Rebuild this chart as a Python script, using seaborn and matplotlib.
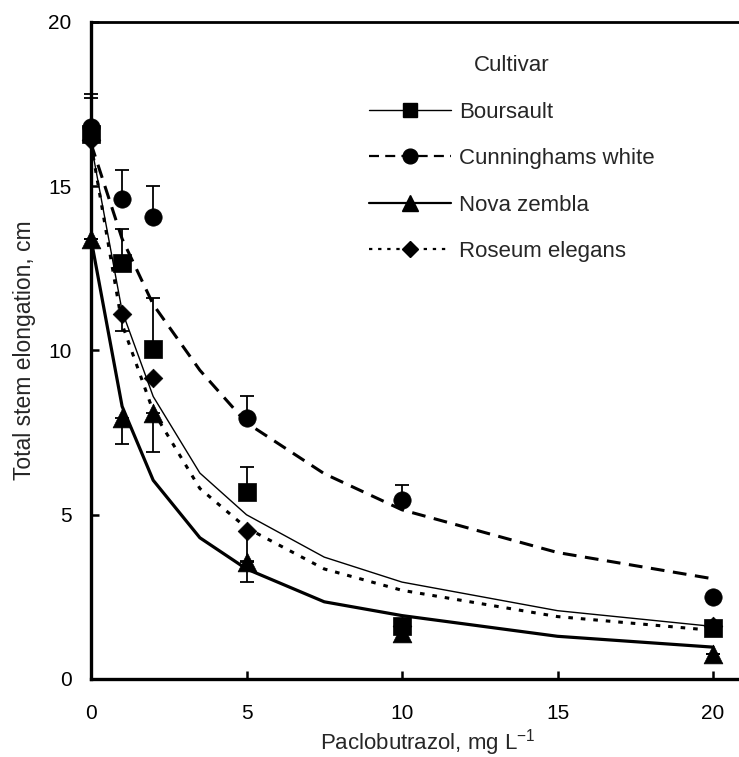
import numpy as np
import pandas as pd
import matplotlib
matplotlib.use("Agg")
import matplotlib.pyplot as plt
import seaborn as sns
from matplotlib.lines import Line2D
from matplotlib.legend_handler import HandlerLine2D

# ---------------- data ----------------
cultivars = ["Boursault", "Cunninghams white", "Nova zembla", "Roseum elegans"]
dose = [0, 1, 2, 5, 10, 20]
boursault = [16.6, 12.65, 10.05, 5.7, 1.6, 1.55]
cunninghams = [16.8, 14.6, 14.05, 7.95, 5.45, 2.5]
nova = [13.4, 7.95, 8.1, 3.55, 1.4, 0.75]
roseum = [16.4, 11.1, 9.15, 4.5, 1.6, 1.6]

boursault_err_up = [1.1, 1.05, 1.55, 0.75, 0, 0]
cunninghams_err_up = [1.0, 0.9, 0.95, 0.65, 0.45, 0.1]
nova_err_down = [0, 0.8, 1.2, 0.6, 0, 0]
roseum_err_down = [0, 0.5, 0, 0.9, 0, 0]

fit_dose = [0, 1, 2, 3.5, 5, 7.5, 10, 15, 20]
boursault_fit = [16.3, 11.2, 8.6, 6.27, 5.0, 3.71, 2.95, 2.08, 1.6]
cunninghams_fit = [16.3, 13.4, 11.4, 9.4, 7.8, 6.25, 5.15, 3.85, 3.05]
nova_fit = [13.4, 8.3, 6.05, 4.3, 3.35, 2.35, 1.93, 1.3, 0.97]
roseum_fit = [16.3, 10.8, 8.15, 5.8, 4.6, 3.35, 2.7, 1.9, 1.48]

x_ticks = [0, 5, 10, 15, 20]
y_ticks = [0, 5, 10, 15, 20]

# ---------------- styling ----------------
sns.set_style("ticks")
plt.rcParams["font.family"] = ["Liberation Sans", "DejaVu Sans"]

means = {"Boursault": boursault, "Cunninghams white": cunninghams,
         "Nova zembla": nova, "Roseum elegans": roseum}
fits = {"Boursault": boursault_fit, "Cunninghams white": cunninghams_fit,
        "Nova zembla": nova_fit, "Roseum elegans": roseum_fit}
err_lo = {"Boursault": [0] * 6, "Cunninghams white": [0] * 6,
          "Nova zembla": nova_err_down, "Roseum elegans": roseum_err_down}
err_hi = {"Boursault": boursault_err_up, "Cunninghams white": cunninghams_err_up,
          "Nova zembla": [0] * 6, "Roseum elegans": [0] * 6}

style = {
    "Boursault": dict(marker="s", ms=12.5, lw=1.0, dashes=None),
    "Cunninghams white": dict(marker="o", ms=12.5, lw=2.2, dashes=(4.5, 2.8)),
    "Nova zembla": dict(marker="^", ms=13.5, lw=2.3, dashes=None),
    "Roseum elegans": dict(marker="D", ms=9.5, lw=2.2, dashes=(1.5, 2.6)),
}

fit_df = pd.DataFrame({
    "dose": fit_dose * 4,
    "elong": sum((fits[c] for c in cultivars), []),
    "cultivar": sum(([c] * len(fit_dose) for c in cultivars), []),
})
pt_df = pd.DataFrame({
    "dose": dose * 4,
    "elong": sum((means[c] for c in cultivars), []),
    "cultivar": sum(([c] * len(dose) for c in cultivars), []),
})

fig = plt.figure(figsize=(7.39, 7.57), dpi=100)
ax = fig.add_axes([91 / 739, 1 - 679 / 757, 1 - 91 / 739, (679 - 22) / 757])

for c in cultivars:
    st = style[c]
    sub = fit_df[fit_df.cultivar == c]
    sns.lineplot(data=sub, x="dose", y="elong", ax=ax, color="black",
                 lw=st["lw"], legend=False, zorder=2)
    if st["dashes"] is not None:
        ax.lines[-1].set_dashes(st["dashes"])
    ax.lines[-1].set_dash_capstyle("butt")

for c in cultivars:
    sub = pt_df[pt_df.cultivar == c]
    eb = ax.errorbar(sub["dose"], sub["elong"], yerr=[err_lo[c], err_hi[c]],
                     fmt="none", ecolor="black", elinewidth=1.3, capsize=5,
                     capthick=1.3, zorder=3)
    for art in eb.lines[1] + eb.lines[2]:
        art.set_clip_on(False)

for c in cultivars:
    st = style[c]
    sub = pt_df[pt_df.cultivar == c]
    sizes = st["ms"] ** 2
    sns.scatterplot(data=sub, x="dose", y="elong", ax=ax, color="black",
                    marker=st["marker"], s=sizes, edgecolor="black",
                    linewidth=0.5, legend=False, zorder=4, clip_on=False)

ax.set_xlim(0, (739 - 91) / 31.1)
ax.set_ylim(0, 20)
ax.set_xticks(x_ticks)
ax.set_yticks(y_ticks)
ax.set_xticklabels([str(v) for v in x_ticks])
ax.set_yticklabels([str(v) for v in y_ticks])
ax.tick_params(axis="both", direction="in", length=6, width=1.8,
               labelsize=15, colors="black")
ax.tick_params(axis="x", pad=18)
ax.tick_params(axis="y", pad=14)

for side in ["left", "bottom"]:
    ax.spines[side].set_linewidth(2.4)
    ax.spines[side].set_color("black")
ax.spines["top"].set_visible(True)
ax.spines["top"].set_linewidth(2.0)
ax.spines["top"].set_color("black")
ax.spines["right"].set_visible(False)

ax.set_xlabel("Paclobutrazol, mg L$^{\\mathregular{-1}}$", fontsize=16)
ax.set_ylabel("Total stem elongation, cm", fontsize=16.5)
ax.xaxis.set_label_coords(0.52, -0.073)
ax.yaxis.set_label_coords(-0.085, 0.5)


class MarkerRightHandler(HandlerLine2D):
    def get_xdata(self, legend, xdescent, ydescent, width, height, fontsize):
        xdata, _ = super().get_xdata(legend, xdescent, ydescent, width,
                                     height, fontsize)
        return xdata, np.array([-xdescent + 0.77 * width])


handles = []
for c in cultivars:
    st = style[c]
    h = Line2D([], [], color="black",
               lw=min(st["lw"], 1.6) if st["dashes"] is None else 1.6,
               marker=st["marker"], markersize=st["ms"] * 0.85,
               markerfacecolor="black", markeredgecolor="black")
    if st["dashes"] is not None:
        h.set_dashes(st["dashes"])
    handles.append(h)

leg = ax.legend(handles, cultivars, title="Cultivar", loc="upper left",
                bbox_to_anchor=((349 - 91) / 648, (679 - 35) / 657),
                frameon=False, fontsize=16, title_fontsize=16,
                handlelength=3.7, handletextpad=0.35, labelspacing=1.15,
                handler_map={Line2D: MarkerRightHandler(numpoints=1)})

fig.savefig("out.png", dpi=100)
